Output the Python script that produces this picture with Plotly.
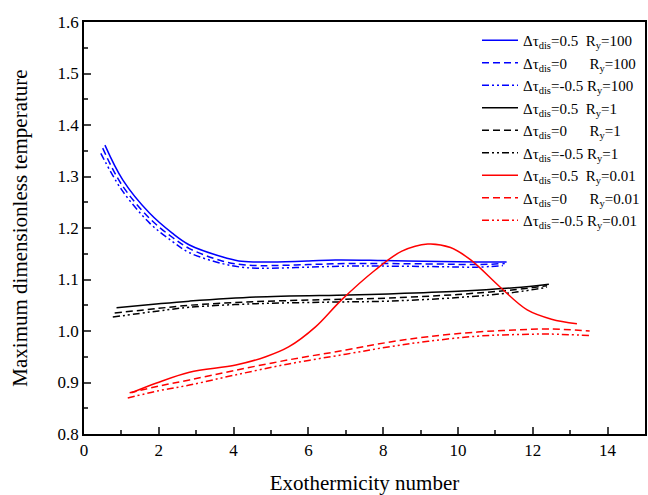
import plotly.graph_objects as go

# Blue (Ry=100)
b_s_x = [0.56, 1.04, 1.75, 2.36, 2.82, 3.69, 4.14, 4.6, 5.02, 6.0, 6.72, 8.0, 9.5, 10.5, 11.3]
b_s_y = [1.361, 1.293, 1.229, 1.190, 1.167, 1.144, 1.136, 1.134, 1.134, 1.136, 1.138, 1.137, 1.135, 1.134, 1.134]
b_d_x = [0.50, 1.0, 1.75, 2.36, 2.82, 3.69, 4.2, 4.6, 5.02, 6.0, 7.0, 8.0, 9.5, 10.5, 11.25]
b_d_y = [1.355, 1.285, 1.219, 1.182, 1.160, 1.136, 1.129, 1.127, 1.127, 1.129, 1.131, 1.131, 1.130, 1.129, 1.131]
b_dd_x = [0.45, 1.0, 1.75, 2.36, 2.82, 3.69, 4.2, 4.6, 5.02, 6.0, 7.0, 8.0, 9.5, 10.5, 11.2]
b_dd_y = [1.345, 1.275, 1.210, 1.174, 1.152, 1.131, 1.124, 1.122, 1.122, 1.124, 1.126, 1.126, 1.125, 1.124, 1.127]

# Black (Ry=1)
k_s_x = [0.87, 2.0, 2.82, 4.6, 7.07, 8.13, 10.0, 11.5, 12.43]
k_s_y = [1.045, 1.053, 1.058, 1.066, 1.070, 1.072, 1.077, 1.084, 1.091]
k_d_x = [0.82, 2.0, 2.82, 4.6, 6.5, 8.13, 10.0, 11.5, 12.38]
k_d_y = [1.035, 1.044, 1.050, 1.057, 1.061, 1.064, 1.071, 1.080, 1.088]
k_dd_x = [0.77, 2.0, 2.82, 4.6, 6.5, 8.13, 10.0, 11.5, 12.38]
k_dd_y = [1.027, 1.039, 1.046, 1.053, 1.056, 1.058, 1.065, 1.075, 1.085]

# Red (Ry=0.01)
r_s_x = [1.27, 1.94, 2.82, 4.06, 4.86, 5.47, 6.19, 6.88, 7.78, 8.5, 9.19, 9.8, 10.34, 11.13, 11.85, 12.5, 13.18]
r_s_y = [0.880, 0.899, 0.920, 0.934, 0.950, 0.969, 1.008, 1.060, 1.118, 1.155, 1.169, 1.162, 1.138, 1.085, 1.041, 1.023, 1.014]
r_d_x = [1.22, 2.0, 2.82, 4.0, 5.47, 7.0, 8.13, 9.2, 10.52, 11.5, 12.46, 13.52]
r_d_y = [0.880, 0.893, 0.905, 0.923, 0.944, 0.963, 0.978, 0.989, 0.998, 1.002, 1.004, 1.000]
r_dd_x = [1.17, 2.0, 2.82, 4.0, 5.47, 7.0, 8.13, 9.2, 10.52, 11.5, 12.46, 13.52]
r_dd_y = [0.870, 0.884, 0.895, 0.914, 0.936, 0.955, 0.969, 0.980, 0.990, 0.993, 0.994, 0.991]

names = [
    "Δτ<sub>dis</sub>=0.5\u00a0\u00a0R<sub>y</sub>=100",
    "Δτ<sub>dis</sub>=0\u00a0\u00a0\u00a0\u00a0\u00a0\u00a0R<sub>y</sub>=100",
    "Δτ<sub>dis</sub>=-0.5\u00a0R<sub>y</sub>=100",
    "Δτ<sub>dis</sub>=0.5\u00a0\u00a0R<sub>y</sub>=1",
    "Δτ<sub>dis</sub>=0\u00a0\u00a0\u00a0\u00a0\u00a0\u00a0R<sub>y</sub>=1",
    "Δτ<sub>dis</sub>=-0.5\u00a0R<sub>y</sub>=1",
    "Δτ<sub>dis</sub>=0.5\u00a0\u00a0R<sub>y</sub>=0.01",
    "Δτ<sub>dis</sub>=0\u00a0\u00a0\u00a0\u00a0\u00a0\u00a0R<sub>y</sub>=0.01",
    "Δτ<sub>dis</sub>=-0.5\u00a0R<sub>y</sub>=0.01",
]

series = [
    (b_s_x, b_s_y, "#0000ff", "solid"),
    (b_d_x, b_d_y, "#0000ff", "dash"),
    (b_dd_x, b_dd_y, "#0000ff", "dashdotdot"),
    (k_s_x, k_s_y, "#000000", "solid"),
    (k_d_x, k_d_y, "#000000", "dash"),
    (k_dd_x, k_dd_y, "#000000", "dashdotdot"),
    (r_s_x, r_s_y, "#ff0000", "solid"),
    (r_d_x, r_d_y, "#ff0000", "dash"),
    (r_dd_x, r_dd_y, "#ff0000", "dashdotdot"),
]

dash_map = {"solid": "solid", "dash": "7px,4px", "dashdotdot": "7px,3px,2px,3px,2px,3px"}

fig = go.Figure()
for (x, y, c, d), n in zip(series, names):
    fig.add_trace(go.Scatter(x=x, y=y, mode="lines", name=n,
                             line=dict(color=c, width=1.5, dash=dash_map[d], shape="spline", smoothing=1.0)))

font = "Liberation Serif"
fig.update_layout(
    width=648, height=495,
    margin=dict(l=84, r=1, t=22, b=61),
    plot_bgcolor="white", paper_bgcolor="white",
    font=dict(family=font, size=17, color="black"),
    showlegend=True,
    legend=dict(x=1, xanchor="right", y=0.995, yanchor="top", bgcolor="rgba(0,0,0,0)",
                font=dict(family=font, size=15), tracegroupgap=0, itemwidth=36),
    xaxis=dict(range=[0, 15], tickvals=[0, 2, 4, 6, 8, 10, 12, 14], ticks="inside", ticklen=7,
               tickwidth=1.5, showline=True, linecolor="black", linewidth=1.5, mirror=True,
               showgrid=False, zeroline=False,
               minor=dict(tickvals=[1, 3, 5, 7, 9, 11, 13], ticks="inside", ticklen=4, tickwidth=1.5),
               title=dict(text="Exothermicity number", font=dict(family=font, size=21), standoff=17),
               tickfont=dict(family=font, size=17)),
    yaxis=dict(range=[0.8, 1.6], tickvals=[0.8, 0.9, 1.0, 1.1, 1.2, 1.3, 1.4, 1.5, 1.6],
               ticktext=["0.8", "0.9", "1.0", "1.1", "1.2", "1.3", "1.4", "1.5", "1.6"],
               ticks="inside", ticklen=7, tickwidth=1.5,
               showline=True, linecolor="black", linewidth=1.5, mirror=True,
               showgrid=False, zeroline=False,
               minor=dict(tickvals=[0.85, 0.95, 1.05, 1.15, 1.25, 1.35, 1.45, 1.55], ticks="inside", ticklen=4, tickwidth=1.5),
               title=dict(text="Maximum dimensionless temperature", font=dict(family=font, size=21), standoff=24),
               tickfont=dict(family=font, size=17)),
)

fig.write_html("out.html")
